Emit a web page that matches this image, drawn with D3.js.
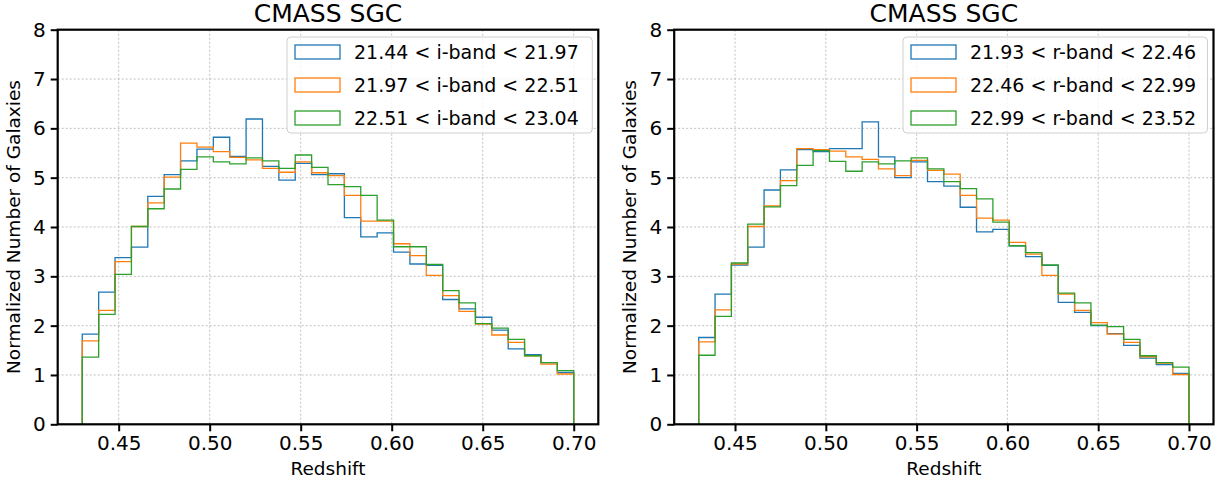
<!DOCTYPE html>
<html>
<head>
<meta charset="utf-8">
<script src="https://cdn.jsdelivr.net/npm/d3@7"></script>
<style>
    body { margin: 0; background: #fff; }
    text { font-family: "DejaVu Sans", sans-serif; }
</style>
</head>
<body>
<div id="chart"></div>
<script>
// bin edges (30 bins, 0.43 .. 0.70)
const binEdges = [0.430, 0.439, 0.448, 0.457, 0.466, 0.475, 0.484, 0.493, 0.502, 0.511,
    0.520, 0.529, 0.538, 0.547, 0.556, 0.565, 0.574, 0.583, 0.592, 0.601,
    0.610, 0.619, 0.628, 0.637, 0.646, 0.655, 0.664, 0.673, 0.682, 0.691, 0.700];

const xTicks = [0.45, 0.50, 0.55, 0.60, 0.65, 0.70];
const yTicks = [0, 1, 2, 3, 4, 5, 6, 7, 8];
const seriesColors = ["#1f77b4", "#ff7f0e", "#2ca02c"];

const iLabels = ["21.44 < i-band < 21.97", "21.97 < i-band < 22.51", "22.51 < i-band < 23.04"];
const iBand1 = [1.83, 2.68, 3.38, 3.59, 4.62, 5.06, 5.34, 5.58, 5.82, 5.43, 6.19, 5.23, 4.95, 5.29, 5.06,
    5.08, 4.19, 3.80, 3.88, 3.49, 3.25, 3.22, 2.53, 2.34, 2.17, 1.91, 1.53, 1.41, 1.25, 1.05];
const iBand2 = [1.69, 2.31, 3.30, 4.01, 4.49, 5.01, 5.70, 5.62, 5.53, 5.41, 5.36, 5.19, 5.11, 5.32, 5.10,
    5.04, 4.64, 4.12, 4.12, 3.66, 3.42, 3.02, 2.61, 2.29, 2.03, 1.81, 1.66, 1.39, 1.22, 1.02];
const iBand3 = [1.36, 2.23, 3.04, 4.01, 4.37, 4.77, 5.17, 5.42, 5.32, 5.28, 5.40, 5.34, 5.19, 5.46, 5.21,
    4.86, 4.82, 4.64, 4.14, 3.60, 3.60, 3.24, 2.71, 2.46, 2.04, 1.95, 1.72, 1.39, 1.25, 1.09];

const rLabels = ["21.93 < r-band < 22.46", "22.46 < r-band < 22.99", "22.99 < r-band < 23.52"];
const rBand1 = [1.76, 2.64, 3.23, 3.59, 4.75, 5.16, 5.57, 5.53, 5.59, 5.59, 6.13, 5.42, 5.00, 5.32, 4.92,
    4.83, 4.40, 3.90, 3.95, 3.62, 3.40, 3.22, 2.47, 2.27, 2.00, 1.84, 1.60, 1.34, 1.21, 1.03];
const rBand2 = [1.67, 2.32, 3.25, 4.01, 4.43, 4.94, 5.59, 5.57, 5.54, 5.42, 5.37, 5.18, 5.04, 5.35, 5.15,
    5.07, 4.64, 4.18, 4.14, 3.69, 3.45, 3.02, 2.64, 2.31, 2.06, 1.83, 1.66, 1.37, 1.24, 1.01];
const rBand3 = [1.40, 2.19, 3.27, 4.06, 4.41, 4.84, 5.25, 5.55, 5.33, 5.13, 5.32, 5.28, 5.34, 5.40, 5.18,
    4.92, 4.78, 4.57, 4.10, 3.62, 3.48, 3.23, 2.66, 2.46, 2.01, 1.98, 1.72, 1.39, 1.25, 1.16];

const svg = d3.select("#chart").append("svg")
    .attr("width", 1224)
    .attr("height", 487);

function drawPanel(left, right, series, labels, legendX) {
    let top = 29.7, bottom = 424.3;

    let x = d3.scaleLinear().domain([0.4165, 0.7135]).range([left, right]);
    let y = d3.scaleLinear().domain([0, 8]).range([bottom, top]);

    const g = svg.append("g");

    // grid
    g.append("g").selectAll("line").data(xTicks).enter().append("line")
        .attr("x1", d => x(d)).attr("x2", d => x(d))
        .attr("y1", top).attr("y2", bottom)
        .attr("stroke", "#b0b0b0").attr("stroke-width", 0.8)
        .attr("stroke-dasharray", "2,2");
    g.append("g").selectAll("line").data(yTicks.slice(1, -1)).enter().append("line")
        .attr("x1", left).attr("x2", right)
        .attr("y1", d => y(d)).attr("y2", d => y(d))
        .attr("stroke", "#b0b0b0").attr("stroke-width", 0.8)
        .attr("stroke-dasharray", "2,2");

    // step histograms
    series.forEach(function(vals, k) {
        let pts = [[binEdges[0], 0]];
        for (let i = 0; i < vals.length; i++) {
            pts.push([binEdges[i], vals[i]]);
            pts.push([binEdges[i + 1], vals[i]]);
        }
        pts.push([binEdges[binEdges.length - 1], 0]);
        g.append("path")
            .attr("d", d3.line().x(d => x(d[0])).y(d => y(d[1]))(pts))
            .attr("fill", "none")
            .attr("stroke", seriesColors[k])
            .attr("stroke-width", 1.3);
    });

    // axes
    g.append("g")
        .attr("transform", "translate(0," + bottom + ")")
        .call(d3.axisBottom(x).tickValues(xTicks).tickFormat(d3.format(".2f")).tickSize(7).tickPadding(5))
        .call(a => a.select(".domain").remove())
        .call(a => a.selectAll("line").attr("stroke-width", 2))
        .call(a => a.selectAll("text").attr("font-size", 20).attr("font-family", "DejaVu Sans").attr("fill", "#000"));
    g.append("g")
        .attr("transform", "translate(" + left + ",0)")
        .call(d3.axisLeft(y).tickValues(yTicks).tickFormat(d3.format("d")).tickSize(7).tickPadding(5))
        .call(a => a.select(".domain").remove())
        .call(a => a.selectAll("line").attr("stroke-width", 2))
        .call(a => a.selectAll("text").attr("font-size", 20).attr("font-family", "DejaVu Sans").attr("fill", "#000"));

    // frame
    g.append("rect")
        .attr("x", left).attr("y", top)
        .attr("width", right - left).attr("height", bottom - top)
        .attr("fill", "none").attr("stroke", "#000").attr("stroke-width", 2.2);

    // labels
    g.append("text")
        .attr("x", (left + right) / 2).attr("y", 22)
        .attr("text-anchor", "middle").attr("font-size", 25)
        .text("CMASS SGC");
    g.append("text")
        .attr("x", (left + right) / 2).attr("y", 475)
        .attr("text-anchor", "middle").attr("font-size", 18.5)
        .text("Redshift");
    g.append("text")
        .attr("transform", `translate(${left - 38},${(top + bottom) / 2})rotate(-90)`)
        .attr("text-anchor", "middle").attr("font-size", 18.5)
        .text("Normalized Number of Galaxies");

    // legend
    let legW = right - 6 - legendX;
    const leg = g.append("g");
    leg.append("rect")
        .attr("x", legendX).attr("y", 37)
        .attr("width", legW).attr("height", 96)
        .attr("rx", 4)
        .attr("fill", "#fff").attr("fill-opacity", 0.8)
        .attr("stroke", "#d0d0d0").attr("stroke-width", 1);
    labels.forEach(function(lab, k) {
        let cy = 52 + k * 33;
        leg.append("rect")
            .attr("x", legendX + 8).attr("y", cy - 7)
            .attr("width", 45).attr("height", 14)
            .attr("fill", "none").attr("stroke", seriesColors[k]).attr("stroke-width", 1.3);
        leg.append("text")
            .attr("x", legendX + 67).attr("y", cy)
            .attr("dy", "0.35em").attr("font-size", 19)
            .text(lab);
    });
}

drawPanel(57.7, 598.3, [iBand1, iBand2, iBand3], iLabels, 287);
drawPanel(674.2, 1213.5, [rBand1, rBand2, rBand3], rLabels, 903);
</script>
</body>
</html>
